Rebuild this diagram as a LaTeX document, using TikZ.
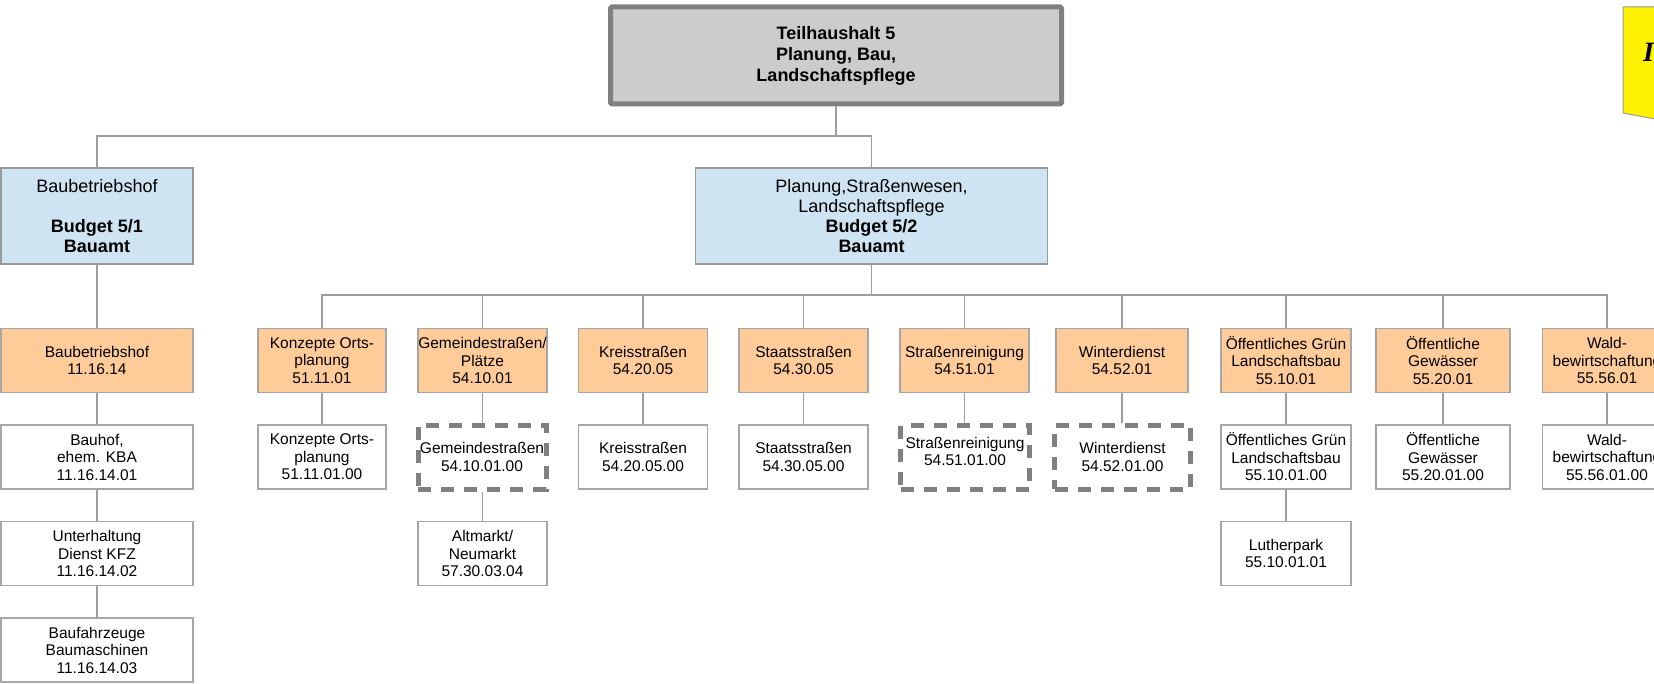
\documentclass[tikz,border=0pt]{standalone}
\usepackage{fontspec}
\setmainfont{Liberation Sans}
\newfontfamily\hintfont{Liberation Serif}
\definecolor{bluefill}{RGB}{207,228,242}
\definecolor{orangefill}{RGB}{255,204,153}

\begin{document}
\begin{tikzpicture}[x=1pt, y=1pt,
  conn/.style={draw=black!38, line width=1.3pt},
  topbox/.style={draw=black!50, line width=5pt, fill=black!20, rounded corners=1.5pt, minimum width=451pt, minimum height=97pt, inner sep=0pt, align=center, font=\fontsize{18}{21}\selectfont\bfseries},
  bluebox/.style={draw=black!40, line width=1.3pt, fill=bluefill, minimum height=96pt, inner sep=0pt, align=center, font=\fontsize{18}{20}\selectfont},
  orangebox/.style={draw=black!35, line width=1.3pt, fill=orangefill, minimum width=129pt, minimum height=64pt, inner sep=0pt, align=center, font=\fontsize{15.5}{17.5}\selectfont},
  whitebox/.style={orangebox, fill=white},
  dashbox/.style={orangebox, fill=white, draw=black!50, line width=5pt, dash pattern=on 13pt off 10pt, minimum width=128pt, minimum height=64pt},
  boxtext/.style={inner sep=0pt, align=center, font=\fontsize{15.5}{17.5}\selectfont}]
\useasboundingbox (0,0) rectangle (1654,-684);
\coordinate (bus1) at (0,-136);
\coordinate (bus2) at (0,-295);

\fill[yellow, draw=black!40, line width=1pt] (1623,-7) -- (1660,-7) -- (1660,-120) -- (1623,-113) -- cycle;
\node[anchor=west, inner sep=0pt, font=\hintfont\fontsize{28}{28}\selectfont\bfseries\itshape] (hint) at (1643,-52) {I};

\node[topbox] (top) at (836,-55.5) {Teilhaushalt 5\\Planung, Bau,\\Landschaftspflege};

\node[bluebox, minimum width=192pt] (bbhof) at (97,-216) {Baubetriebshof\\ \mbox{}\\ \textbf{Budget 5/1}\\ \textbf{Bauamt}};
\node[bluebox, minimum width=352pt] (plan) at (871.5,-216) {Planung,Straßenwesen,\\Landschaftspflege\\ \textbf{Budget 5/2}\\ \textbf{Bauamt}};

\node[orangebox, minimum width=192pt] (bbo) at (97,-360.5) {Baubetriebshof\\11.16.14};
\node[orangebox, minimum width=128pt] (ort) at (322,-360.5) {Konzepte Orts-\\planung\\51.11.01};
\node[orangebox] (gem) at (482.5,-360.5) {Gemeindestraßen/\\Plätze\\54.10.01};
\node[orangebox] (kreis) at (643,-360.5) {Kreisstraßen\\54.20.05};
\node[orangebox] (staat) at (803.5,-360.5) {Staatsstraßen\\54.30.05};
\node[orangebox] (rein) at (964.5,-360.5) {Straßenreinigung\\54.51.01};
\node[orangebox, minimum width=132pt] (wint) at (1122,-360.5) {Winterdienst\\54.52.01};
\node[orangebox, minimum width=130pt] (gruen) at (1286,-360.5) {Öffentliches Grün\\Landschaftsbau\\55.10.01};
\node[orangebox, minimum width=134pt] (gew) at (1443,-360.5) {Öffentliche\\Gewässer\\55.20.01};
\node[orangebox, minimum width=129pt] (wald) at (1607,-360.5) {Wald-\\bewirtschaftung\\55.56.01};

\node[whitebox, minimum width=192pt] (bauhof) at (97,-457) {Bauhof,\\ehem. KBA\\11.16.14.01};
\node[whitebox, minimum width=128pt] (ort2) at (322,-457) {Konzepte Orts-\\planung\\51.11.01.00};
\node[dashbox] (gem2) at (482,-457) {Gemeindestraßen\\54.10.01.00};
\node[whitebox] (kreis2) at (643,-457) {Kreisstraßen\\54.20.05.00};
\node[whitebox] (staat2) at (803.5,-457) {Staatsstraßen\\54.30.05.00};
\node[dashbox, minimum width=129pt] (rein2) at (965,-457.5) {};
\node[boxtext] (rein2txt) at ([yshift=6pt]rein2.center) {Straßenreinigung\\54.51.01.00};
\node[dashbox, minimum width=136pt] (wint2) at (1122.5,-457) {Winterdienst\\54.52.01.00};
\node[whitebox, minimum width=130pt] (gruen2) at (1286,-457) {Öffentliches Grün\\Landschaftsbau\\55.10.01.00};
\node[whitebox, minimum width=134pt] (gew2) at (1443,-457) {Öffentliche\\Gewässer\\55.20.01.00};
\node[whitebox, minimum width=129pt] (wald2) at (1607,-457) {Wald-\\bewirtschaftung\\55.56.01.00};

\node[whitebox, minimum width=192pt] (kfz) at (97,-553.5) {Unterhaltung\\Dienst KFZ\\11.16.14.02};
\node[whitebox] (markt) at (482.5,-553.5) {Altmarkt/\\Neumarkt\\57.30.03.04};
\node[whitebox, minimum width=130pt] (luther) at (1286,-553.5) {Lutherpark\\55.10.01.01};

\node[whitebox, minimum width=192pt] (fahr) at (97,-650) {Baufahrzeuge\\Baumaschinen\\11.16.14.03};

\draw[conn] (top.south) -- (top.south |- bus1);
\draw[conn] (bbhof.north) |- (plan.north |- bus1) -- (plan.north);
\draw[conn] (plan.south) -- (plan.south |- bus2);
\draw[conn] (ort.north) |- (wald.north |- bus2) -- (wald.north);
\foreach \n in {gem,kreis,staat,rein,wint,gruen,gew}
  \draw[conn] (\n.north) -- (\n.north |- bus2);
\draw[conn] (bbhof.south) -- (bbo.north);
\draw[conn] (bbo.south) -- (bauhof.north);
\draw[conn] (bauhof.south) -- (kfz.north);
\draw[conn] (kfz.south) -- (fahr.north);
\foreach \n in {ort,kreis,staat,gruen,gew,wald}
  \draw[conn] (\n.south) -- (\n2.north);
\foreach \n in {gem,rein,wint}
  \draw[conn] (\n.south) -- (\n2.north -| \n.south);
\draw[conn] (gem2.south -| gem.south) -- (markt.north);
\draw[conn] (gruen2.south) -- (luther.north);
\end{tikzpicture}
\end{document}
